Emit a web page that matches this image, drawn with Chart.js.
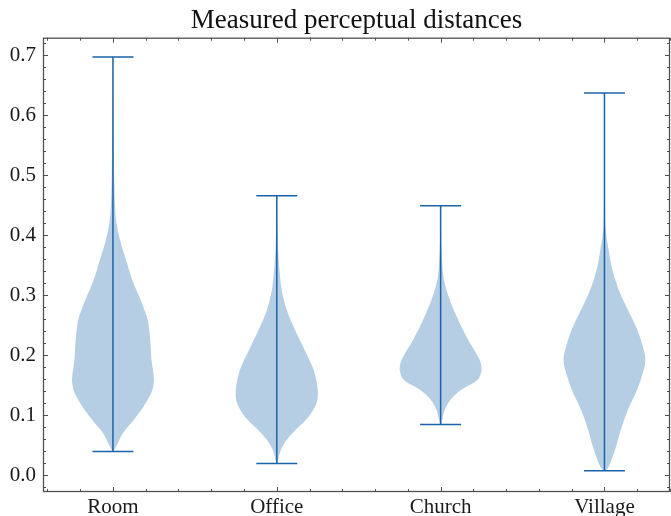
<!DOCTYPE html>
<html>
<head>
<meta charset="utf-8">
<title>Measured perceptual distances</title>
<script src="https://cdn.jsdelivr.net/npm/chart.js@4.4.0/dist/chart.umd.min.js"></script>
<style>
html, body { margin: 0; padding: 0; background: #fff; }
#wrap { width: 671px; height: 516px; }
</style>
</head>
<body>
<div id="wrap"><canvas id="violins"></canvas></div>
<script>
const categories = ['Room', 'Office', 'Church', 'Village'];
const yTicks = [0.0, 0.1, 0.2, 0.3, 0.4, 0.5, 0.6, 0.7];

// extremes of each group (caps)
const minima = [0.040, 0.020, 0.085, 0.008];
const maxima = [0.697, 0.466, 0.449, 0.637];

// violin outlines: distance levels and relative density (peak = 1)
const roomLevels = [0.040, 0.054, 0.071, 0.091, 0.114, 0.138, 0.159, 0.193, 0.226, 0.259, 0.293, 0.326, 0.359, 0.393, 0.426, 0.46, 0.50, 0.56, 0.62, 0.697];
const roomDensity = [0.01, 0.12, 0.25, 0.49, 0.74, 0.94, 1.0, 0.94, 0.91, 0.85, 0.67, 0.47, 0.32, 0.17, 0.075, 0.045, 0.03, 0.018, 0.01, 0.003];

const officeLevels = [0.020, 0.043, 0.059, 0.076, 0.098, 0.121, 0.143, 0.176, 0.209, 0.243, 0.276, 0.309, 0.343, 0.38, 0.42, 0.466];
const officeDensity = [0.01, 0.1, 0.24, 0.46, 0.78, 0.975, 1.0, 0.9, 0.68, 0.44, 0.24, 0.12, 0.065, 0.03, 0.012, 0.003];

const churchLevels = [0.085, 0.093, 0.109, 0.126, 0.143, 0.159, 0.176, 0.193, 0.226, 0.259, 0.293, 0.326, 0.359, 0.40, 0.449];
const churchDensity = [0.01, 0.04, 0.1, 0.24, 0.51, 0.9, 1.0, 0.95, 0.67, 0.43, 0.22, 0.08, 0.035, 0.01, 0.002];

const villageLevels = [0.008, 0.014, 0.031, 0.054, 0.076, 0.109, 0.143, 0.176, 0.193, 0.209, 0.243, 0.276, 0.309, 0.343, 0.376, 0.409, 0.45, 0.50, 0.637];
const villageDensity = [0.02, 0.1, 0.2, 0.31, 0.4, 0.57, 0.8, 0.96, 1.0, 0.96, 0.8, 0.57, 0.35, 0.19, 0.1, 0.03, 0.012, 0.005, 0.001];

const levels = [roomLevels, officeLevels, churchLevels, villageLevels];
const densities = [roomDensity, officeDensity, churchDensity, villageDensity];

const lineColor = '#1a63a8';
const bodyColor = 'rgba(12, 93, 165, 0.3)';
const halfWidth = 0.25;
const capHalf = 0.125;

Chart.defaults.font.family = "'Liberation Serif', serif";
Chart.defaults.color = '#1a1a1a';

function outline(pos, lv, d) {
    let left = lv.map((y, i) => ({x: pos - halfWidth * d[i], y: y}));
    let right = lv.map((y, i) => ({x: pos + halfWidth * d[i], y: y})).reverse();
    return left.concat(right);
}

let datasets = [];
categories.forEach((c, i) => {
    let pos = i + 1;
    datasets.push({
        label: c,
        data: outline(pos, levels[i], densities[i]),
        showLine: true,
        fill: 'shape',
        backgroundColor: bodyColor,
        borderWidth: 0,
        pointRadius: 0,
        tension: 0.3,
        order: 2
    });
    // whisker and caps
    datasets.push({
        data: [{x: pos, y: minima[i]}, {x: pos, y: maxima[i]}],
        showLine: true, borderColor: lineColor, borderWidth: 1.5, pointRadius: 0, order: 1
    });
    datasets.push({
        data: [{x: pos - capHalf, y: maxima[i]}, {x: pos + capHalf, y: maxima[i]}],
        showLine: true, borderColor: lineColor, borderWidth: 1.5, pointRadius: 0, order: 1
    });
    datasets.push({
        data: [{x: pos - capHalf, y: minima[i]}, {x: pos + capHalf, y: minima[i]}],
        showLine: true, borderColor: lineColor, borderWidth: 1.5, pointRadius: 0, order: 1
    });
});

// inward ticks on all four sides + frame
const frameTicks = {
    id: 'frameTicks',
    afterDraw(chart) {
        const {ctx, chartArea: a, scales: {x, y}} = chart;
        ctx.save();
        ctx.strokeStyle = '#505050';
        ctx.lineWidth = 1;
        let tick = (px, py, dx, dy) => {
            ctx.beginPath();
            ctx.moveTo(px, py);
            ctx.lineTo(px + dx, py + dy);
            ctx.stroke();
        };
        for (let k = -1; k <= 36; k++) {
            let v = k * 0.02;
            if (v < y.min || v > y.max) continue;
            let len = (k % 5 === 0) ? 5 : 3;
            let py = Math.round(y.getPixelForValue(v)) + 0.5;
            tick(a.left, py, len, 0);
            tick(a.right, py, -len, 0);
        }
        for (let k = 3; k <= 22; k++) {
            let v = k * 0.2;
            if (v < x.min || v > x.max) continue;
            let len = (k % 5 === 0) ? 5 : 3;
            let px = Math.round(x.getPixelForValue(v)) + 0.5;
            tick(px, a.bottom, 0, -len);
            tick(px, a.top, 0, len);
        }
        ctx.lineWidth = 1.3;
        ctx.strokeRect(a.left + 0.5, a.top + 0.5, a.right - a.left - 1, a.bottom - a.top - 1);
        ctx.restore();
    }
};

new Chart(document.getElementById('violins'), {
    type: 'scatter',
    data: { datasets: datasets },
    options: {
        responsive: true,
        maintainAspectRatio: false,
        animation: false,
        layout: { padding: { left: 0, right: 1, top: 0, bottom: 0 } },
        plugins: {
            legend: { display: false },
            tooltip: { enabled: false },
            title: {
                display: true,
                fullSize: false,
                text: 'Measured perceptual distances',
                font: { size: 27, weight: 'normal', lineHeight: 1.1 },
                color: '#111',
                padding: { top: 6, bottom: 2 }
            }
        },
        scales: {
            x: {
                type: 'linear',
                min: 0.573,
                max: 4.40,
                afterBuildTicks: s => { s.ticks = categories.map((c, i) => ({value: i + 1})); },
                afterFit: s => { s.height = 24; },
                ticks: {
                    autoSkip: false,
                    maxRotation: 0,
                    padding: 3,
                    font: { size: 21 },
                    callback: v => categories[v - 1]
                },
                grid: { display: false, drawTicks: false },
                border: { display: false }
            },
            y: {
                min: -0.0275,
                max: 0.729,
                afterBuildTicks: s => { s.ticks = yTicks.map(v => ({value: v})); },
                afterFit: s => { s.width = 43; },
                ticks: {
                    padding: 7,
                    font: { size: 21 },
                    callback: v => v.toFixed(1)
                },
                grid: { display: false, drawTicks: false },
                border: { display: false }
            }
        }
    },
    plugins: [frameTicks]
});
</script>
</body>
</html>
